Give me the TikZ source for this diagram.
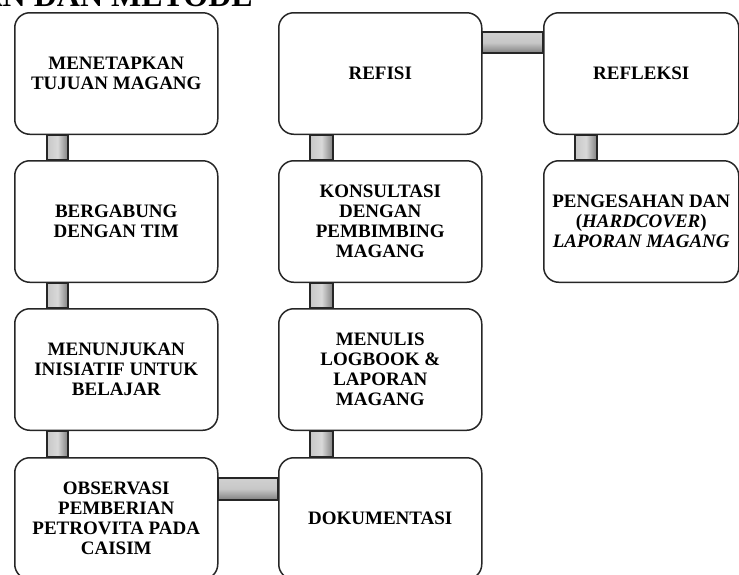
\documentclass[tikz,border=0pt]{standalone}
\usepackage{fontspec}
\setmainfont{Liberation Serif}
\begin{document}
\begin{tikzpicture}[x=1pt,y=-1pt,
  stepbox/.style={draw=black!85, line width=1.5pt, fill=white, rounded corners=15pt,
    rectangle, minimum width=203pt, minimum height=121.5pt, anchor=north west,
    align=center, inner sep=2pt, font=\fontsize{19}{20}\selectfont\bfseries},
  narrowbox/.style={stepbox, minimum width=195pt},
  vlink/.style={draw=black!85, line width=1.2pt, left color=black!22, right color=black!50, middle color=black!15},
  hlink/.style={draw=black!85, line width=1.2pt, top color=black!18, bottom color=black!50, middle color=black!22},
  headline/.style={anchor=base east, inner sep=0pt, font=\fontsize{32}{34}\selectfont\bfseries}
]
\useasboundingbox (0,0) rectangle (739,574);
\node[headline] (head) at (253,6) {BAHAN DAN METODE};

% boxes
\node[stepbox] (b1) at (14,12) {MENETAPKAN\\TUJUAN MAGANG};
\node[stepbox] (b2) at (14,160) {BERGABUNG\\DENGAN TIM};
\node[stepbox] (b3) at (14,308) {MENUNJUKAN\\INISIATIF UNTUK\\BELAJAR};
\node[stepbox] (b4) at (14,457) {OBSERVASI\\PEMBERIAN\\PETROVITA PADA\\CAISIM};
\node[stepbox] (c1) at (278,12) {REFISI};
\node[stepbox] (c2) at (278,160) {KONSULTASI\\DENGAN\\PEMBIMBING\\MAGANG};
\node[stepbox] (c3) at (278,308) {MENULIS\\LOGBOOK \&\\LAPORAN\\MAGANG};
\node[stepbox] (c4) at (278,457) {DOKUMENTASI};
\node[narrowbox] (d1) at (543,12) {REFLEKSI};
\node[narrowbox] (d2) at (543,160) {PENGESAHAN DAN\\(\textit{HARDCOVER})\\\textit{LAPORAN MAGANG}};

% connectors (drawn behind the boxes)
\begin{scope}[on background layer/.style={}]
\end{scope}
\path[vlink] ([xshift=33pt]b1.south west) rectangle ([xshift=54pt]b2.north west);
\path[vlink] ([xshift=33pt]b2.south west) rectangle ([xshift=54pt]b3.north west);
\path[vlink] ([xshift=33pt]b3.south west) rectangle ([xshift=54pt]b4.north west);
\path[vlink] ([xshift=32pt]c1.south west) rectangle ([xshift=55pt]c2.north west);
\path[vlink] ([xshift=32pt]c2.south west) rectangle ([xshift=55pt]c3.north west);
\path[vlink] ([xshift=32pt]c3.south west) rectangle ([xshift=55pt]c4.north west);
\path[vlink] ([xshift=32pt]d1.south west) rectangle ([xshift=54pt]d2.north west);
\path[hlink] ([yshift=-21pt]b4.north east) rectangle ([yshift=-43pt]c4.north west);
\path[hlink] ([yshift=-20pt]c1.north east) rectangle ([yshift=-41pt]d1.north west);
\end{tikzpicture}
\end{document}
